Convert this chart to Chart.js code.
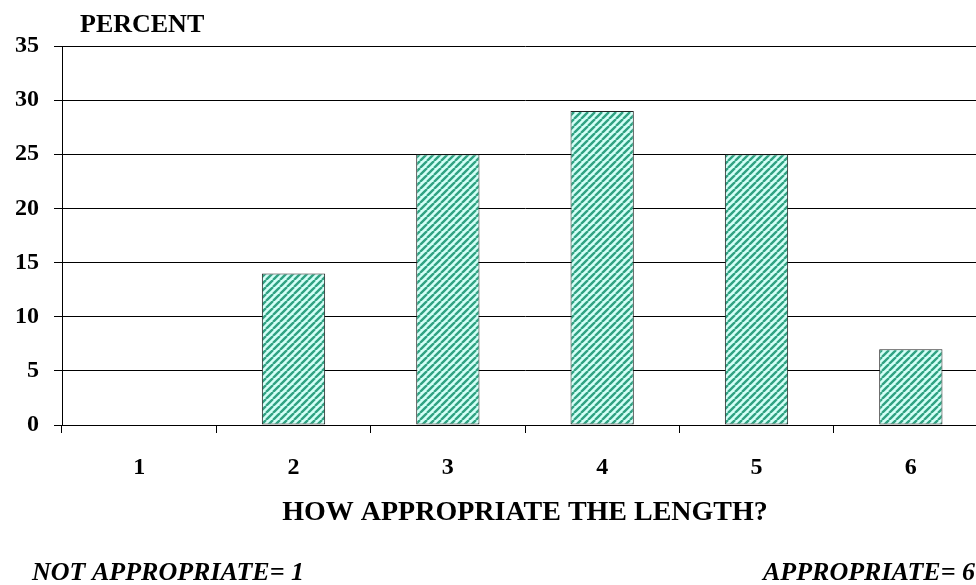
<!DOCTYPE html>
<html>
<head>
<meta charset="utf-8">
<script src="https://cdn.jsdelivr.net/npm/chart.js@4/dist/chart.umd.min.js"></script>
<style>
    html, body { margin: 0; padding: 0; background: #fff; overflow: hidden; }
    #wrap { position: relative; width: 988px; height: 585px; }
</style>
</head>
<body>
<div id="wrap"><canvas id="lengthChart"></canvas></div>
<script>
const categories = ['1', '2', '3', '4', '5', '6'];
const percentValues = [0, 14, 25, 29, 25, 7];
const yTicks = [0, 5, 10, 15, 20, 25, 30, 35];

const SERIF = '"Liberation Serif", "Times New Roman", serif';

// diagonal hatch like the old Excel fill
const makeHatch = () => {
    const s = 7;
    const tile = document.createElement('canvas');
    tile.width = s;
    tile.height = s;
    const c = tile.getContext('2d');
    c.fillStyle = '#d4fff7';
    c.fillRect(0, 0, s, s);
    c.strokeStyle = '#30a282';
    c.lineWidth = 2.4;
    c.beginPath();
    for (const k of [-s, 0, s]) {
        c.moveTo(k, s);
        c.lineTo(k + s, 0);
    }
    c.stroke();
    return c.createPattern(tile, 'repeat');
};

const extraText = {
    id: 'extraText',
    afterDraw(chart) {
        const ctx = chart.ctx;
        ctx.save();
        ctx.fillStyle = '#000';
        ctx.textBaseline = 'alphabetic';
        ctx.textAlign = 'left';
        ctx.font = 'bold 26px ' + SERIF;
        ctx.fillText('PERCENT', 80, 32);
        ctx.font = 'italic bold 26px ' + SERIF;
        ctx.fillText('NOT APPROPRIATE= 1', 32, 580);
        ctx.fillText('APPROPRIATE= 6', 763, 580);
        ctx.restore();
    },
};

const initChart = () => {
    const canvas = document.getElementById('lengthChart');

    new Chart(canvas, {
        type: 'bar',
        data: {
            labels: categories,
            datasets: [{
                data: percentValues,
                backgroundColor: makeHatch(),
                borderColor: '#222',
                borderWidth: 1,
                borderSkipped: false,
                barPercentage: 0.41,
                categoryPercentage: 1,
            }],
        },
        options: {
            responsive: true,
            maintainAspectRatio: false,
            animation: false,
            layout: { padding: { top: 46, left: 0, right: 0, bottom: 0 } },
            plugins: {
                legend: { display: false },
                tooltip: { enabled: false },
            },
            scales: {
                x: {
                    offset: true,
                    afterFit: (scale) => { scale.height = 160; },
                    grid: {
                        offset: true,
                        drawOnChartArea: false,
                        drawTicks: true,
                        tickLength: 8,
                        color: '#000',
                    },
                    border: { color: '#000', width: 1 },
                    ticks: {
                        color: '#000',
                        padding: 20,
                        font: { family: SERIF, size: 24, weight: 'bold' },
                    },
                    title: {
                        display: true,
                        text: 'HOW APPROPRIATE THE LENGTH?',
                        color: '#000',
                        font: { family: SERIF, size: 28, weight: 'bold' },
                        padding: { top: 0, bottom: 55 },
                    },
                },
                y: {
                    min: 0,
                    max: 35,
                    afterFit: (scale) => { scale.width = 62; },
                    afterBuildTicks: (scale) => {
                        scale.ticks = yTicks.map((v) => ({ value: v }));
                    },
                    grid: {
                        color: '#000',
                        lineWidth: 1,
                        drawTicks: true,
                        tickLength: 8,
                    },
                    border: { color: '#000', width: 1 },
                    ticks: {
                        color: '#000',
                        padding: 15,
                        font: { family: SERIF, size: 24, weight: 'bold' },
                    },
                },
            },
        },
        plugins: [extraText],
    });
};

if (document.readyState === 'loading') {
    document.addEventListener('DOMContentLoaded', initChart, { once: true });
} else {
    initChart();
}
</script>
</body>
</html>
